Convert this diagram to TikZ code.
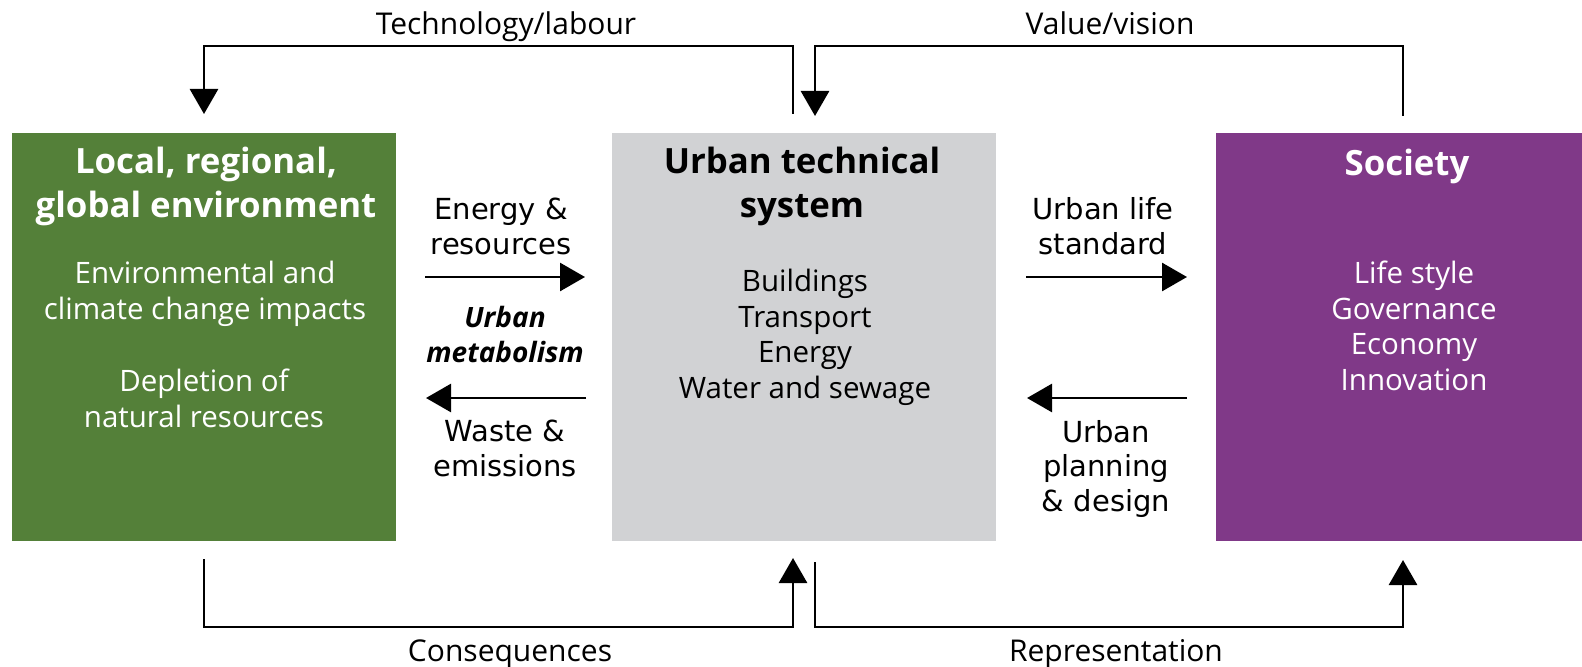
\documentclass[tikz,border=0pt]{standalone}
\usepackage{fontspec}
\setmainfont{Open Sans}
\newfontfamily\dejavu{DejaVu Sans}
\usetikzlibrary{arrows.meta}
\definecolor{envgreen}{HTML}{548039}
\definecolor{utsgray}{HTML}{D1D2D4}
\definecolor{socpurple}{HTML}{803988}
\tikzset{
  x=1bp, y=-1bp,
  panel/.style={draw=none, inner sep=0, anchor=north west, minimum width=#1, minimum height=408bp},
  ttl/.style={anchor=base, align=center, inner sep=0, font=\fontsize{34.8bp}{44bp}\bfseries\selectfont},
  body/.style={anchor=base, align=center, inner sep=0, font=\fontsize{29.5bp}{35.5bp}\selectfont},
  flowlbl/.style={anchor=base, align=center, inner sep=0, font=\dejavu\fontsize{29bp}{34.5bp}\selectfont},
  looplbl/.style={anchor=base, inner sep=0, font=\fontsize{30bp}{34bp}\selectfont},
  conn/.style={line width=2.8bp, -{Triangle[length=25bp,width=28bp]}},
  loop/.style={line width=2.8bp, -{Triangle[length=25bp,width=28bp]}}
}
\begin{document}
\begin{tikzpicture}
\useasboundingbox (0,0) rectangle (1582,667);
% panels
\node[panel=384bp, fill=envgreen] (env) at (12,133) {};
\node[panel=384bp, fill=utsgray] (uts) at (612,133) {};
\node[panel=366bp, fill=socpurple] (soc) at (1216,133) {};
% titles (base = last line)
\node[ttl, text=white] (envttl) at (206,217) {Local, regional,\\global environment};
\node[ttl] (utsttl) at (802,217) {Urban technical\\system};
\node[ttl, text=white] (socttl) at (1407,175) {Society};
% bodies
\node[body, text=white] (envb1) at (205,319) {Environmental and\\climate change impacts};
\node[body, text=white] (envb2) at (204,427) {Depletion of\\natural resources};
\node[body] (utsb) at (805,398) {Buildings\\Transport\\Energy\\Water and sewage};
\node[body, text=white] (socb) at (1414,390) {Life style\\Governance\\Economy\\Innovation};
% flow labels
\node[flowlbl] (er) at (501,254) {Energy \&\\resources};
\node[flowlbl, font=\fontsize{28bp}{34.5bp}\bfseries\itshape\selectfont] (um) at (505,362) {Urban\\metabolism};
\node[flowlbl] (we) at (505,476) {Waste \&\\emissions};
\node[flowlbl] (uls) at (1103,254) {Urban life\\standard};
\node[flowlbl] (upd) at (1106,511) {Urban\\planning\\\& design};
% flow arrows
\coordinate (a1s) at (425,277);
\coordinate (a1e) at (585,277);
\coordinate (a2s) at (586,398);
\coordinate (a2e) at (426,398);
\coordinate (a3s) at (1026,277);
\coordinate (a3e) at (1187,277);
\coordinate (a4s) at (1187,398);
\coordinate (a4e) at (1027,398);
\draw[conn] (a1s) -- (a1e);
\draw[conn] (a2s) -- (a2e);
\draw[conn] (a3s) -- (a3e);
\draw[conn] (a4s) -- (a4e);
% loops
\coordinate (tls) at (793,114);
\coordinate (tle) at (204,114);
\coordinate (trs) at (1403,116);
\coordinate (tre) at (815,116);
\coordinate (bls) at (204,559);
\coordinate (ble) at (793,558);
\coordinate (brs) at (815,562);
\coordinate (bre) at (1403,560);
\draw[loop] (tls) -- (793,46) -- (204,46) -- (tle);
\draw[loop] (trs) -- (1403,46) -- (815,46) -- (tre);
\draw[loop] (bls) -- (204,627) -- (793,627) -- (ble);
\draw[loop] (brs) -- (815,627) -- (1403,627) -- (bre);
\node[looplbl] (tech) at (506,35) {Technology/labour};
\node[looplbl] (val) at (1110,35) {Value/vision};
\node[looplbl] (cons) at (510,661) {Consequences};
\node[looplbl] (repr) at (1116,661) {Representation};
\end{tikzpicture}
\end{document}
